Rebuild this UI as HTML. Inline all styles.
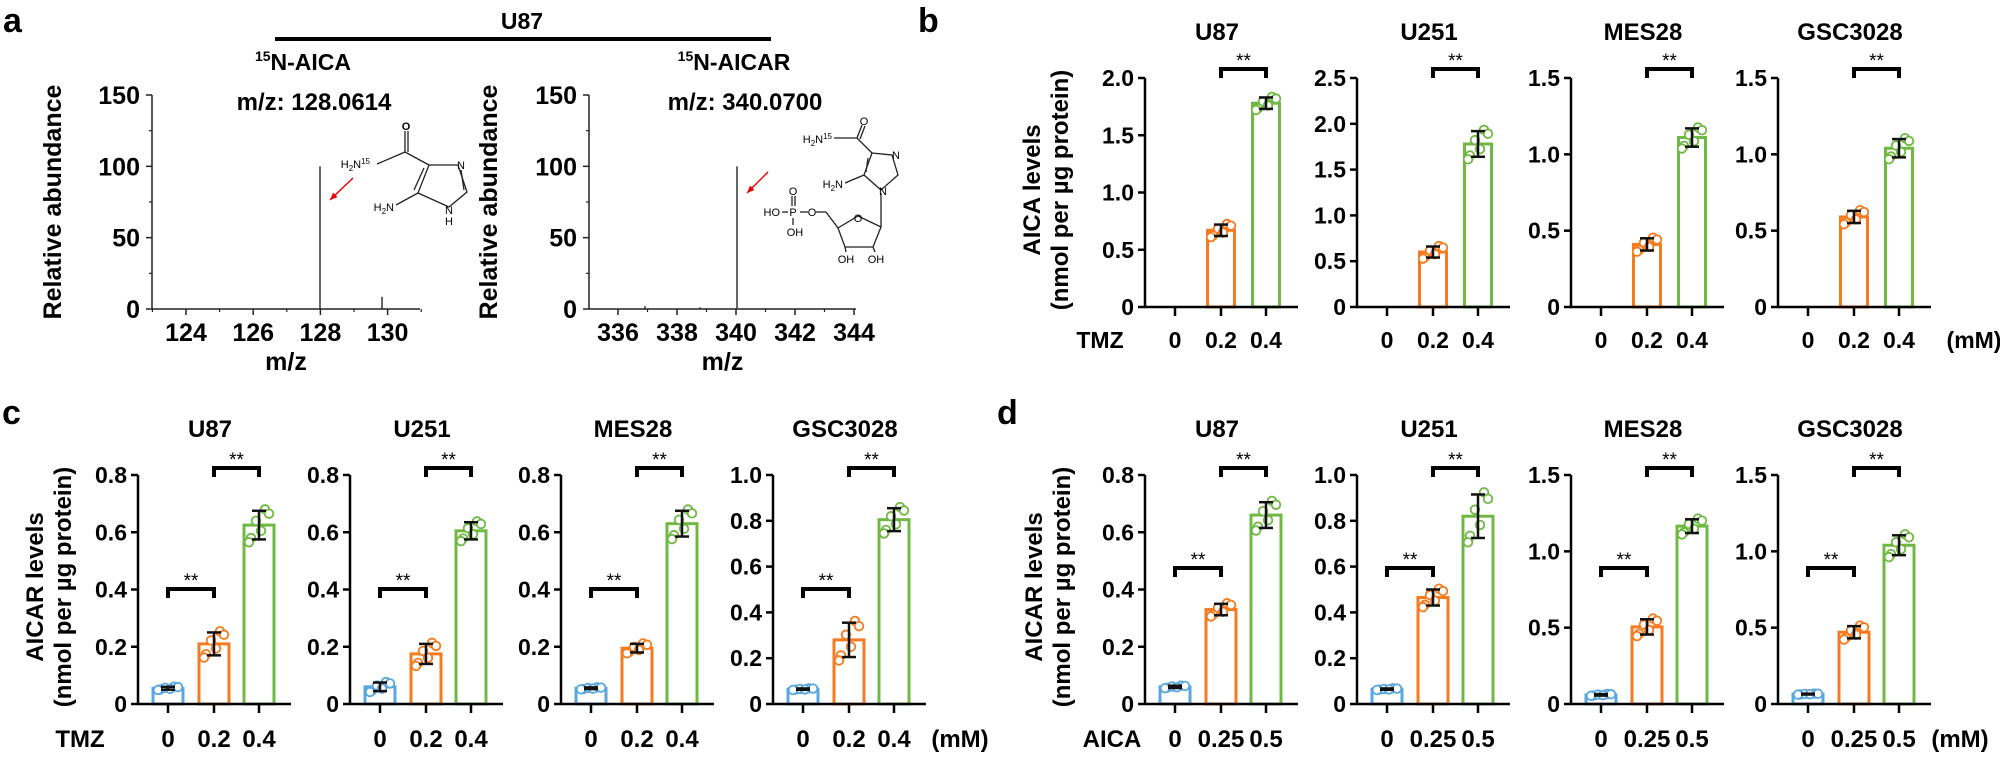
<!DOCTYPE html>
<html><head><meta charset="utf-8"><style>
html,body{margin:0;padding:0;background:#fff;}
svg{display:block;font-family:"Liberation Sans",Arial,sans-serif;font-weight:bold;}
</style></head><body>
<svg id="s" width="2000" height="758" viewBox="0 0 2000 758" xmlns="http://www.w3.org/2000/svg">
<text x="3" y="32" font-size="34">a</text>
<text x="918" y="32" font-size="34">b</text>
<text x="2" y="424" font-size="34">c</text>
<text x="997" y="424" font-size="34">d</text>
<text x="522" y="29" font-size="23" text-anchor="middle">U87</text>
<line x1="275" y1="39" x2="771" y2="39" stroke="#000" stroke-width="4"/>
<text x="303" y="70" font-size="23" text-anchor="middle"><tspan font-size="14" dy="-9">15</tspan><tspan dy="9">N-AICA</tspan></text>
<text x="314" y="110" font-size="24" text-anchor="middle">m/z: 128.0614</text>
<text x="734" y="70" font-size="23" text-anchor="middle"><tspan font-size="14" dy="-9">15</tspan><tspan dy="9">N-AICAR</tspan></text>
<text x="745" y="110" font-size="24" text-anchor="middle">m/z: 340.0700</text>
<g id="g"></g>
</svg>
<script>
var S='';
function L(x1,y1,x2,y2,c,w){S+='<line x1="'+x1+'" y1="'+y1+'" x2="'+x2+'" y2="'+y2+'" stroke="'+(c||'#000')+'" stroke-width="'+(w||2.5)+'"/>';}
function T(x,y,t,fs,a,extra){S+='<text x="'+x+'" y="'+y+'" font-size="'+fs+'" text-anchor="'+(a||'middle')+'" '+(extra||'')+'>'+t+'</text>';}
// spectra
function spec(ax,x0,unit,first,majors,minors,peaks,lx){
  var top=95,zero=309,end=majors.end;
  L(ax,top,ax,zero,'#222',1.5);L(ax,zero,end,zero,'#222',1.5);
  [0,50,100,150].forEach(function(v){var y=zero-(zero-top)*v/150;L(ax-6,y,ax,y,'#222',1.5);T(ax-12,y+9,v,25,'end');});
  [25,75,125].forEach(function(v){var y=zero-(zero-top)*v/150;L(ax-3,y,ax,y,'#222',1.2);});
  majors.v.forEach(function(v){var x=x0+(v-first)*unit;L(x,zero,x,zero+6,'#222',1.5);T(x,341,v,25);});
  minors.forEach(function(v){var x=x0+(v-first)*unit;L(x,zero,x,zero+3,'#222',1.2);});
  peaks.forEach(function(p){L(p[0],zero,p[0],zero-(zero-top)*p[1]/150,'#333',1.5);});
  T((ax+end)/2,370,'m/z',25);
  S+='<text transform="translate('+lx+',202) rotate(-90)" font-size="25" text-anchor="middle">Relative abundance</text>';
}
spec(152,186,33.6,124,{v:[124,126,128,130],end:420},[125,127,129,131,123],[[320,100],[382,8.5]],61);
spec(589,618,29.5,336,{v:[336,338,340,342,344],end:856},[337,339,341,343],[[737,100],[645,2],[700,1.2]],497);
// arrows
function arrow(x1,y1,x2,y2){L(x1,y1,x2,y2,'#e00',1.5);var a=Math.atan2(y2-y1,x2-x1),h=8;
S+='<polygon fill="#e00" points="'+x2+','+y2+' '+(x2-h*Math.cos(a-0.4))+','+(y2-h*Math.sin(a-0.4))+' '+(x2-h*Math.cos(a+0.4))+','+(y2-h*Math.sin(a+0.4))+'"/>';}
arrow(353,178,330,200);arrow(768,172,747,193);
// structure 1
var st='stroke="#222" stroke-width="1.3" fill="none"';
S+='<g '+st+'><polyline points="377,164 405,152 429,165"/><line x1="405" y1="152" x2="405" y2="131"/><line x1="408" y1="152" x2="408" y2="131"/>'+
'<polygon points="429,165 458,165 467,192 449,207 418,193"/><line x1="424" y1="168" x2="414" y2="190"/><line x1="461" y1="170" x2="464" y2="190"/><line x1="418" y1="193" x2="396" y2="205"/></g>';
T(406,130,'O',11);T(370,168,'H<tspan font-size="8" dy="3">2</tspan><tspan dy="-3">N</tspan><tspan font-size="8" dy="-4">15</tspan>',11,'end','font-weight="normal"');
T(461,169,'N',11,'middle','font-weight="normal"');T(449,214,'N',11,'middle','font-weight="normal"');T(449,225,'H',11,'middle','font-weight="normal"');
T(394,211,'H<tspan font-size="8" dy="3">2</tspan><tspan dy="-3">N</tspan>',11,'end','font-weight="normal"');
// structure 2
S+='<g '+st+'><polyline points="834,138 857,138 872,153"/><line x1="857" y1="138" x2="862" y2="125"/><line x1="860" y1="139" x2="865" y2="126"/>'+
'<polygon points="872,153 892,155 898,175 881,190 864,175"/><line x1="868" y1="158" x2="866" y2="172"/><line x1="864" y1="175" x2="845" y2="183"/>'+
'<line x1="881" y1="193" x2="881" y2="227"/><polygon points="881,227 873,247 845,247 838,228 858,216"/><line x1="873" y1="247" x2="875" y2="252"/><line x1="845" y1="247" x2="846" y2="252"/>'+
'<line x1="838" y1="228" x2="826" y2="212"/><line x1="826" y1="212" x2="816" y2="212"/><line x1="800" y1="212" x2="808" y2="212"/><line x1="782" y1="212" x2="788" y2="212"/>'+
'<line x1="792" y1="196" x2="792" y2="206"/><line x1="795" y1="196" x2="795" y2="206"/><line x1="793" y1="218" x2="793" y2="225"/></g>';
var n='font-weight="normal"';
T(864,125,'O',11,'middle',n);T(832,143,'H<tspan font-size="8" dy="3">2</tspan><tspan dy="-3">N</tspan><tspan font-size="8" dy="-4">15</tspan>',11,'end',n);
T(896,159,'N',11,'middle',n);T(883,195,'N',11,'middle',n);T(843,188,'H<tspan font-size="8" dy="3">2</tspan><tspan dy="-3">N</tspan>',11,'end',n);
T(858,222,'O',11,'middle',n);T(812,216,'O',11,'middle',n);T(793,216,'P',11,'middle',n);T(793,195,'O',11,'middle',n);
T(780,216,'HO',11,'end',n);T(795,236,'OH',11,'middle',n);T(846,263,'OH',11,'middle',n);T(876,263,'OH',11,'middle',n);
// bar panels
var C=['#5aa7e0','#f47b20','#70b844'];
function fmt(v){return v==0?'0':v.toFixed(1);}
function bars(ax,top,zero,max,step,data,title,titleY,br,bw){
  var H=zero-top,xs=[ax+30,ax+76,ax+121];
  function Y(v){return zero-H*v/max;}
  T(ax+72,titleY,title,24);
  for(var v=0;v<=max+1e-9;v+=step){var y=Y(v);L(ax-7,y,ax,y);T(ax-11,y+8,fmt(v),23,'end');}
  data.forEach(function(d,i){if(!d)return;var x=xs[i],y=Y(d[0]);
    S+='<rect x="'+(x-bw/2)+'" y="'+y+'" width="'+bw+'" height="'+(zero-y)+'" fill="#fff" stroke="'+C[i]+'" stroke-width="3"/>';
    var off=[-0.9,0.3,1.1,-0.4,0.8,-1.2],jx=[-8,-3,6,2,10,-10];
    for(var k=0;k<6;k++){var yy=Y(Math.max(0,d[0]+off[k]*d[1]));S+='<circle cx="'+(x+jx[k])+'" cy="'+yy+'" r="4.3" fill="#fff" stroke="'+C[i]+'" stroke-width="1.8"/>';}
    var y1=Y(d[0]+d[1]),y2=Y(d[0]-d[1]);L(x,y1,x,y2,'#111',2.5);L(x-7,y1,x+7,y1,'#111',2.5);L(x-7,y2,x+7,y2,'#111',2.5);
  });
  L(ax,top,ax,zero+1);L(ax-1,zero,ax+153,zero);
  xs.forEach(function(x){L(x,zero,x,zero+9);});
  br.forEach(function(b){var a=xs[b[0]],c=xs[b[1]],y=b[2];
    S+='<polyline points="'+a+','+(y+9)+' '+a+','+y+' '+c+','+y+' '+c+','+(y+9)+'" fill="none" stroke="#000" stroke-width="4"/>';
    T((a+c)/2,y-2,'**',19,'middle','font-weight="normal"');});
}
// b
var bax=[1145,1357,1571,1778],bT=['U87','U251','MES28','GSC3028'];
var bd=[[[0,0],[.67,.05],[1.78,.05]],[[0,0],[.6,.06],[1.78,.14]],[[0,0],[.41,.04],[1.11,.06]],[[0,0],[.59,.04],[1.04,.06]]];
var bm=[[2,.5],[2.5,.5],[1.5,.5],[1.5,.5]];
bax.forEach(function(a,i){var d=bd[i].slice();d[0]=null;bars(a,78,307,bm[i][0],bm[i][1],d,bT[i],40,[[1,2,69]],27);
  T(a+30,348,'0',23);T(a+76,348,'0.2',23);T(a+121,348,'0.4',23);});
T(1100,348,'TMZ',23);T(1974,348,'(mM)',23);
S+='<text transform="translate(1040,190) rotate(-90)" font-size="24" text-anchor="middle">AICA levels</text>';
S+='<text transform="translate(1068,190) rotate(-90)" font-size="24" text-anchor="middle">(nmol per µg protein)</text>';
// c
var cax=[138,350,561,773];
var cd=[[[.055,.005],[.21,.04],[.625,.05]],[[.06,.015],[.175,.035],[.605,.03]],[[.055,.003],[.195,.015],[.63,.045]],[[.065,.003],[.28,.075],[.805,.05]]];
var cm=[.8,.8,.8,1.0];
cax.forEach(function(a,i){bars(a,475,704,cm[i],.2,cd[i],bT[i],437,[[0,1,589],[1,2,468]],30);
  T(a+30,747,'0',24);T(a+76,747,'0.2',24);T(a+121,747,'0.4',24);});
T(80,747,'TMZ',24);T(960,747,'(mM)',24);
S+='<text transform="translate(43,587) rotate(-90)" font-size="24" text-anchor="middle">AICAR levels</text>';
S+='<text transform="translate(71,587) rotate(-90)" font-size="24" text-anchor="middle">(nmol per µg protein)</text>';
// d
var dax=[1145,1357,1571,1778];
var dd=[[[.06,.004],[.33,.02],[.66,.045]],[[.065,.003],[.465,.035],[.82,.095]],[[.06,.005],[.505,.05],[1.165,.045]],[[.065,.003],[.47,.04],[1.04,.065]]];
var dm=[[.8,.2],[1,.2],[1.5,.5],[1.5,.5]];
dax.forEach(function(a,i){bars(a,475,704,dm[i][0],dm[i][1],dd[i],bT[i],437,[[0,1,568],[1,2,468]],30);
  T(a+30,747,'0',24);T(a+76,747,'0.25',24);T(a+121,747,'0.5',24);});
T(1112,747,'AICA',24);T(1960,747,'(mM)',24);
S+='<text transform="translate(1042,587) rotate(-90)" font-size="24" text-anchor="middle">AICAR levels</text>';
S+='<text transform="translate(1070,587) rotate(-90)" font-size="24" text-anchor="middle">(nmol per µg protein)</text>';
document.getElementById('g').innerHTML=S;
</script>
</body></html>
